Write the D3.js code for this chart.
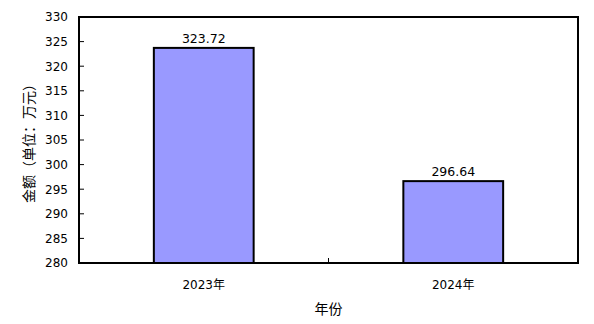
<!DOCTYPE html>
<html>
<head>
<meta charset="utf-8">
<script src="https://cdn.jsdelivr.net/npm/d3@7"></script>
<style>
  body { margin: 0; background: #fff; }
  text { font-family: "DejaVu Sans", "Noto Sans CJK SC", sans-serif; }
  .cjk { font-family: "Noto Sans CJK SC", sans-serif; }
</style>
</head>
<body>
<div id="chart"></div>
<script>
const categories = ["2023年", "2024年"];
const values = [323.72, 296.64];
const yTicks = [280, 285, 290, 295, 300, 305, 310, 315, 320, 325, 330];

const w = 594, h = 324;
const margin = { top: 17, right: 16, bottom: 61, left: 79 };

const svg = d3.select("#chart").append("svg")
  .attr("width", w)
  .attr("height", h);

const x = d3.scaleBand()
  .domain(categories)
  .range([margin.left, w - margin.right])
  .padding(0);

const y = d3.scaleLinear()
  .domain([280, 330])
  .range([h - margin.bottom, margin.top]);

const barW = x.bandwidth() * 0.4;

// bars
svg.selectAll("rect.bar")
  .data(values)
  .enter()
  .append("rect")
  .attr("class", "bar")
  .attr("x", (d, i) => x(categories[i]) + (x.bandwidth() - barW) / 2)
  .attr("y", d => y(d))
  .attr("width", barW)
  .attr("height", d => y(280) - y(d))
  .attr("fill", "#9999ff")
  .attr("stroke", "#000")
  .attr("stroke-width", 2);

// value labels
svg.selectAll("text.val")
  .data(values)
  .enter()
  .append("text")
  .attr("x", (d, i) => x(categories[i]) + x.bandwidth() / 2)
  .attr("y", d => y(d) - 5)
  .attr("text-anchor", "middle")
  .attr("font-size", 12.5)
  .text(d => d.toFixed(2));

// y ticks (inside) and labels
svg.selectAll("line.ytick")
  .data(yTicks)
  .enter()
  .append("line")
  .attr("x1", margin.left)
  .attr("x2", margin.left + 5)
  .attr("y1", d => y(d))
  .attr("y2", d => y(d))
  .attr("stroke", "#000");

svg.selectAll("text.ylab")
  .data(yTicks)
  .enter()
  .append("text")
  .attr("x", margin.left - 11)
  .attr("y", d => y(d))
  .attr("dy", "0.36em")
  .attr("text-anchor", "end")
  .attr("font-size", 12)
  .text(d => d);

// category separator tick
svg.append("line")
  .attr("x1", x(categories[1]))
  .attr("x2", x(categories[1]))
  .attr("y1", y(280))
  .attr("y2", y(280) - 5)
  .attr("stroke", "#000");

// category labels
svg.selectAll("text.xlab")
  .data(categories)
  .enter()
  .append("text")
  .attr("x", d => x(d) + x.bandwidth() / 2)
  .attr("y", y(280) + 26)
  .attr("text-anchor", "middle")
  .attr("font-size", 12)
  .text(d => d);

// plot frame
svg.append("rect")
  .attr("x", margin.left)
  .attr("y", margin.top)
  .attr("width", w - margin.left - margin.right)
  .attr("height", h - margin.top - margin.bottom)
  .attr("fill", "none")
  .attr("stroke", "#000")
  .attr("stroke-width", 2);

// axis titles
svg.append("text")
  .attr("class", "cjk")
  .attr("x", (margin.left + w - margin.right) / 2)
  .attr("y", 314)
  .attr("text-anchor", "middle")
  .attr("font-size", 14)
  .text("年份");

svg.append("text")
  .attr("class", "cjk")
  .attr("transform", `translate(34, 140) rotate(-90)`)
  .attr("text-anchor", "middle")
  .attr("font-size", 14)
  .text("金额（单位：万元）");
</script>
</body>
</html>
